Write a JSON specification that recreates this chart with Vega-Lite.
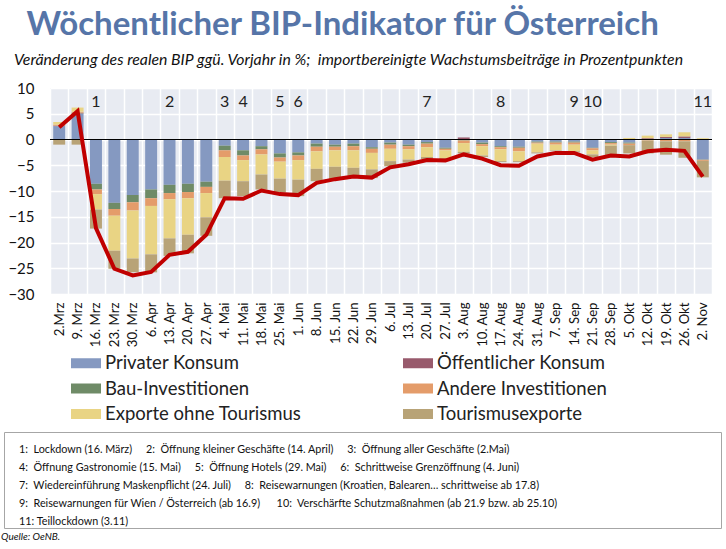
{
  "$schema": "https://vega.github.io/schema/vega-lite/v6.json",
  "background": "white",
  "padding": {"left": 0, "top": 9, "right": 4, "bottom": 2},
  "config": {
    "font": "Lato",
    "view": {"stroke": null},
    "axis": {"labelFont": "Lato", "titleFont": "Lato"},
    "legend": {"labelFont": "Lato"}
  },
  "title": {
    "text": "Wöchentlicher BIP-Indikator für Österreich",
    "anchor": "start",
    "dx": 26,
    "fontSize": 33,
    "font": "Lato",
    "fontWeight": "bold",
    "color": "#5675a8",
    "offset": 10
  },
  "datasets": {
    "weeks": [
      {"w": "2.Mrz", "P": 2.6, "O": 0.1, "B": 0.0, "A": 0.2, "E": 0.5, "T": -1.0, "g": 2.4, "n": ""},
      {"w": "9. Mrz", "P": 5.0, "O": 0.1, "B": 0.1, "A": 0.2, "E": 0.8, "T": -1.0, "g": 5.5, "n": ""},
      {"w": "16. Mrz", "P": -8.6, "O": 0.1, "B": -1.1, "A": -0.9, "E": -3.0, "T": -3.7, "g": -17.2, "n": "1"},
      {"w": "23. Mrz", "P": -12.3, "O": 0.1, "B": -1.2, "A": -1.3, "E": -6.8, "T": -3.5, "g": -25.1, "n": ""},
      {"w": "30. Mrz", "P": -10.8, "O": 0.1, "B": -1.4, "A": -1.6, "E": -9.3, "T": -2.7, "g": -26.4, "n": ""},
      {"w": "6. Apr", "P": -9.7, "O": 0.1, "B": -1.7, "A": -1.5, "E": -9.4, "T": -3.5, "g": -25.7, "n": ""},
      {"w": "13. Apr", "P": -8.8, "O": 0.1, "B": -1.6, "A": -1.2, "E": -7.6, "T": -3.4, "g": -22.4, "n": "2"},
      {"w": "20. Apr", "P": -8.6, "O": 0.1, "B": -1.6, "A": -1.2, "E": -7.1, "T": -3.6, "g": -21.8, "n": ""},
      {"w": "27. Apr", "P": -8.2, "O": 0.1, "B": -1.0, "A": -1.2, "E": -4.7, "T": -3.6, "g": -18.5, "n": ""},
      {"w": "4. Mai", "P": -1.2, "O": 0.1, "B": -0.9, "A": -1.3, "E": -4.6, "T": -3.4, "g": -11.4, "n": "3"},
      {"w": "11. Mai", "P": -2.1, "O": 0.1, "B": -1.0, "A": -0.9, "E": -4.1, "T": -2.9, "g": -11.5, "n": "4"},
      {"w": "18. Mai", "P": -1.3, "O": 0.1, "B": -0.6, "A": -1.0, "E": -3.9, "T": -2.9, "g": -9.9, "n": ""},
      {"w": "25. Mai", "P": -2.7, "O": 0.1, "B": -0.8, "A": -0.8, "E": -3.3, "T": -2.7, "g": -10.6, "n": "5"},
      {"w": "1. Jun", "P": -2.5, "O": 0.1, "B": -0.6, "A": -0.9, "E": -3.8, "T": -3.2, "g": -10.8, "n": "6"},
      {"w": "8. Jun", "P": -0.8, "O": 0.1, "B": -0.6, "A": -0.9, "E": -3.4, "T": -2.4, "g": -8.4, "n": ""},
      {"w": "15. Jun", "P": -1.0, "O": 0.1, "B": -0.4, "A": -0.7, "E": -3.2, "T": -2.4, "g": -7.7, "n": ""},
      {"w": "22. Jun", "P": -0.8, "O": 0.1, "B": -0.5, "A": -0.8, "E": -3.4, "T": -1.6, "g": -7.2, "n": ""},
      {"w": "29. Jun", "P": -1.5, "O": 0.1, "B": -0.3, "A": -0.8, "E": -3.2, "T": -1.7, "g": -7.4, "n": ""},
      {"w": "6. Jul", "P": -0.6, "O": 0.1, "B": -0.4, "A": -0.8, "E": -2.4, "T": -1.0, "g": -5.4, "n": ""},
      {"w": "13. Jul", "P": -1.0, "O": 0.1, "B": -0.3, "A": -0.6, "E": -2.0, "T": -0.6, "g": -4.8, "n": ""},
      {"w": "20. Jul", "P": -0.5, "O": 0.1, "B": -0.3, "A": -0.7, "E": -1.9, "T": -0.4, "g": -4.0, "n": "7"},
      {"w": "27. Jul", "P": -1.6, "O": 0.1, "B": -0.2, "A": -0.3, "E": -1.5, "T": -0.3, "g": -4.1, "n": ""},
      {"w": "3. Aug", "P": 0.1, "O": 0.3, "B": -0.2, "A": -0.5, "E": -1.7, "T": -0.3, "g": -2.9, "n": ""},
      {"w": "10. Aug", "P": -0.6, "O": 0.1, "B": -0.3, "A": -0.4, "E": -1.8, "T": -0.3, "g": -3.7, "n": ""},
      {"w": "17. Aug", "P": -1.3, "O": 0.1, "B": -0.2, "A": -0.4, "E": -2.3, "T": -0.2, "g": -5.0, "n": "8"},
      {"w": "24. Aug", "P": -1.4, "O": 0.1, "B": -0.2, "A": -0.7, "E": -1.9, "T": -0.2, "g": -5.1, "n": ""},
      {"w": "31. Aug", "P": -0.4, "O": 0.1, "B": -0.2, "A": -0.2, "E": -1.7, "T": -0.2, "g": -3.3, "n": ""},
      {"w": "7. Sep", "P": -0.4, "O": 0.1, "B": -0.2, "A": -0.4, "E": -1.1, "T": -0.1, "g": -2.6, "n": ""},
      {"w": "14. Sep", "P": -0.4, "O": 0.1, "B": -0.2, "A": -0.4, "E": -1.3, "T": -0.2, "g": -2.6, "n": "9"},
      {"w": "21. Sep", "P": -1.6, "O": 0.1, "B": -0.1, "A": -0.4, "E": -0.8, "T": -0.5, "g": -3.9, "n": "10"},
      {"w": "28. Sep", "P": -0.5, "O": 0.1, "B": -0.2, "A": -0.3, "E": -0.2, "T": -1.8, "g": -3.1, "n": ""},
      {"w": "5. Okt", "P": -0.6, "O": 0.1, "B": -0.2, "A": -0.3, "E": 0.2, "T": -1.6, "g": -3.3, "n": ""},
      {"w": "12. Okt", "P": 0.1, "O": 0.15, "B": 0.0, "A": -0.2, "E": 0.5, "T": -2.5, "g": -2.3, "n": ""},
      {"w": "19. Okt", "P": 0.3, "O": 0.2, "B": -0.05, "A": -0.3, "E": 0.5, "T": -2.6, "g": -2.0, "n": ""},
      {"w": "26. Okt", "P": 0.3, "O": 0.3, "B": -0.05, "A": -0.3, "E": 0.8, "T": -3.2, "g": -2.2, "n": ""},
      {"w": "2. Nov", "P": -3.9, "O": 0.05, "B": -0.05, "A": -0.2, "E": 0.2, "T": -3.2, "g": -7.2, "n": "11"}
    ],
    "notes": [
      {"i": 1, "x0": 0, "t": "1:\u00a0 Lockdown (16. März)\u00a0\u00a0\u00a0\u00a0 2:\u00a0 Öffnung kleiner Geschäfte (14. April)\u00a0\u00a0\u00a0\u00a0 3:\u00a0 Öffnung aller Geschäfte (2.Mai)"},
      {"i": 2, "x0": 0, "t": "4:\u00a0 Öffnung Gastronomie (15. Mai)\u00a0\u00a0\u00a0\u00a0 5:\u00a0 Öffnung Hotels (29. Mai)\u00a0\u00a0\u00a0\u00a0 6:\u00a0 Schrittweise Grenzöffnung (4. Juni)"},
      {"i": 3, "x0": 0, "t": "7:\u00a0 Wiedereinführung Maskenpflicht (24. Juli)\u00a0\u00a0\u00a0\u00a0 8:\u00a0 Reisewarnungen (Kroatien, Balearen… schrittweise ab 17.8)"},
      {"i": 4, "x0": 0, "t": "9:\u00a0 Reisewarnungen für Wien / Österreich (ab 16.9)\u00a0\u00a0\u00a0\u00a0\u00a0 10:\u00a0 Verschärfte Schutzmaßnahmen (ab 21.9 bzw. ab 25.10)"},
      {"i": 5, "x0": 0, "t": "11: Teillockdown (3.11)"}
    ],
    "empty": []
  },
  "spacing": 84,
  "vconcat": [
    {
      "spacing": 0,
      "hconcat": [
        {
          "width": 1,
          "height": 10,
          "data": {"name": "empty"},
          "mark": "point",
          "encoding": {}
        },
        {
          "width": 662,
          "height": 206,
          "view": {"fill": "#e8ebf2", "stroke": null},
          "title": {
            "text": "Veränderung des realen BIP ggü. Vorjahr in %;\u00a0 importbereinigte Wachstumsbeiträge in Prozentpunkten",
            "anchor": "start",
            "frame": "group",
            "dx": -36,
            "fontSize": 15.8,
            "fontStyle": "italic",
            "fontWeight": "normal",
            "font": "Lato",
            "color": "#111111",
            "offset": 12
          },
          "data": {"name": "weeks"},
          "layer": [
            {
              "transform": [
                {"fold": ["P", "O", "B", "A", "E", "T"], "as": ["key", "v"]},
                {"lookup": "key", "from": {"data": {"values": [
                  {"key": "P", "k": "Privater Konsum", "o": 1},
                  {"key": "O", "k": "Öffentlicher Konsum", "o": 2},
                  {"key": "B", "k": "Bau-Investitionen", "o": 3},
                  {"key": "A", "k": "Andere Investitionen", "o": 4},
                  {"key": "E", "k": "Exporte ohne Tourismus", "o": 5},
                  {"key": "T", "k": "Tourismusexporte", "o": 6}
                ]}, "key": "key", "fields": ["k", "o"]}}
              ],
              "mark": {"type": "bar", "width": {"band": 0.65}},
              "encoding": {
                "x": {
                  "field": "w", "type": "ordinal", "sort": null,
                  "scale": {"paddingInner": 0, "paddingOuter": 0},
                  "axis": {
                    "title": null, "labelAngle": -90, "labelFontSize": 13.2, "labelColor": "#111111",
                    "labelPadding": 8, "ticks": false, "domain": false,
                    "grid": true, "tickBand": "extent", "gridColor": "white", "gridWidth": 1.5
                  }
                },
                "y": {
                  "field": "v", "type": "quantitative", "stack": "zero",
                  "scale": {"domain": [-30, 10], "nice": false},
                  "axis": {
                    "title": null, "values": [-30, -25, -20, -15, -10, -5, 0, 5, 10], "tickCount": 9,
                    "labelOverlap": false, "labelBound": false,
                    "labelFontSize": 15, "labelColor": "#111111", "ticks": false, "domain": false,
                    "labelPadding": 16, "minExtent": 45,
                    "grid": true, "gridColor": "white", "gridWidth": 1.5
                  }
                },
                "color": {
                  "field": "k", "type": "nominal",
                  "sort": ["Privater Konsum", "Öffentlicher Konsum", "Bau-Investitionen", "Andere Investitionen", "Exporte ohne Tourismus", "Tourismusexporte"],
                  "scale": {
                    "domain": ["Privater Konsum", "Öffentlicher Konsum", "Bau-Investitionen", "Andere Investitionen", "Exporte ohne Tourismus", "Tourismusexporte"],
                    "range": ["#8599c1", "#985a6c", "#6f8b67", "#e49c6a", "#e9d484", "#b8a377"]
                  },
                  "legend": {
                    "title": null, "orient": "none", "legendX": 72, "legendY": 265,
                    "direction": "horizontal",
                    "columns": 2, "columnPadding": 101, "rowPadding": 5.5,
                    "symbolType": "M-1.5,-0.5H1.5V0.5H-1.5Z", "symbolSize": 400,
                    "symbolStrokeWidth": 0, "symbolOpacity": 1,
                    "labelFontSize": 18.5, "labelColor": "#222222", "labelOffset": 9, "labelLimit": 400
                  }
                },
                "order": {"field": "o", "type": "quantitative"}
              }
            },
            {
              "mark": {"type": "rule", "color": "black", "strokeWidth": 1},
              "encoding": {"y": {"datum": 0, "type": "quantitative"}}
            },
            {
              "mark": {"type": "line", "color": "#c00000", "strokeWidth": 4},
              "encoding": {
                "x": {"field": "w", "type": "ordinal", "sort": null},
                "y": {
                  "field": "g", "type": "quantitative",
                  "axis": {
                    "title": null, "values": [-30, -25, -20, -15, -10, -5, 0, 5, 10], "tickCount": 9,
                    "labelOverlap": false, "labelBound": false,
                    "labelFontSize": 15, "labelColor": "#111111", "ticks": false, "domain": false,
                    "labelPadding": 16, "minExtent": 45,
                    "grid": true, "gridColor": "white", "gridWidth": 1.5
                  }
                }
              }
            },
            {
              "mark": {"type": "text", "fontSize": 16, "color": "#222222", "baseline": "middle", "font": "Lato"},
              "encoding": {
                "x": {"field": "w", "type": "ordinal", "sort": null},
                "y": {"datum": 7.2, "type": "quantitative"},
                "text": {"field": "n"}
              }
            }
          ]
        }
      ]
    },
    {
      "width": 717,
      "height": 96,
      "view": {"stroke": "#a6a6a6", "strokeWidth": 1, "fill": "white"},
      "title": {
        "text": "Quelle: OeNB.", "orient": "bottom", "anchor": "start", "frame": "group",
        "fontSize": 10, "fontStyle": "italic", "fontWeight": "normal", "font": "Lato",
        "color": "#111111", "offset": 4, "dx": -3
      },
      "data": {"name": "notes"},
      "mark": {"type": "text", "align": "left", "baseline": "middle", "fontSize": 10.8, "font": "Lato", "color": "#111111", "dx": 15},
      "encoding": {
        "x": {"field": "x0", "type": "quantitative", "scale": {"domain": [0, 1]}, "axis": null},
        "y": {"field": "i", "type": "quantitative", "scale": {"domain": [0, 5.333], "reverse": true, "nice": false}, "axis": null},
        "text": {"field": "t"}
      }
    }
  ]
}
